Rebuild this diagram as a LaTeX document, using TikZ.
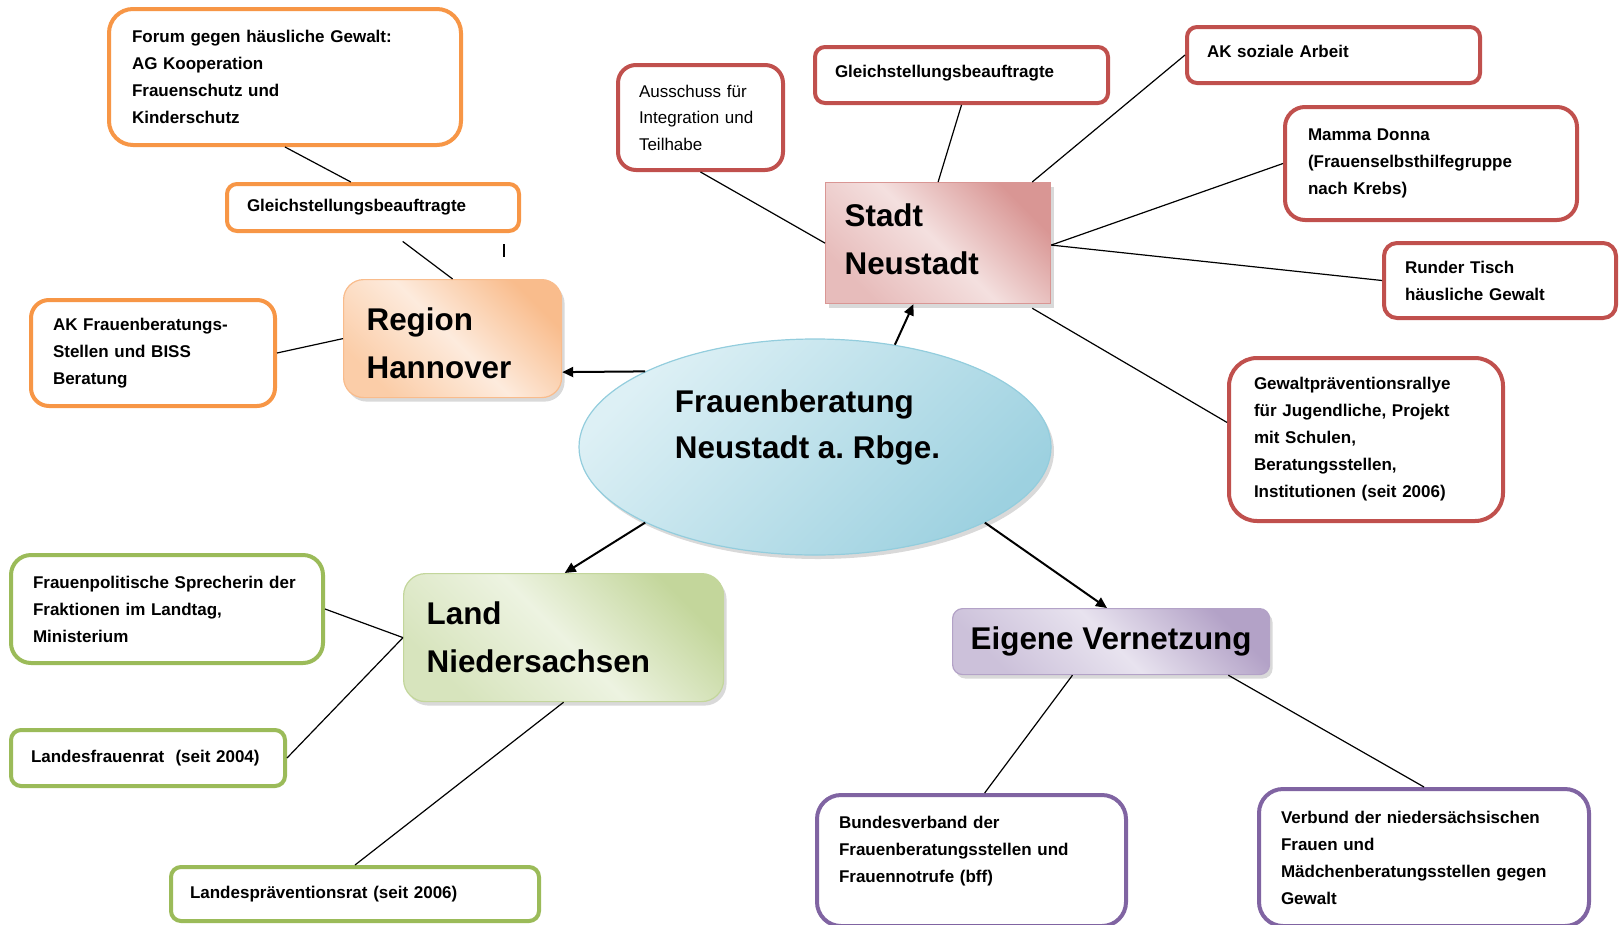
\documentclass[tikz,border=0pt]{standalone}
\usepackage{fontspec}
\setmainfont{Liberation Sans}
\usepackage{tikz}
\usetikzlibrary{%
   arrows.meta,%
   shapes.geometric,%
   positioning,%
   shadows%
}

\definecolor{orangeline}{HTML}{F79646}
\definecolor{redline}{HTML}{C0504D}
\definecolor{greenline}{HTML}{9BBB59}
\definecolor{purpleline}{HTML}{8064A2}
\definecolor{hubline}{HTML}{93CDDD}
\definecolor{hubdark}{HTML}{9DD1E0}
\definecolor{hublight}{HTML}{DDF0F5}
\definecolor{regdark}{HTML}{F9BC8C}
\definecolor{regmid}{HTML}{FBCDA8}
\definecolor{reglight}{HTML}{FDEBDD}
\definecolor{stadtdark}{HTML}{D99694}
\definecolor{stadtmid}{HTML}{E7BCBB}
\definecolor{stadtlight}{HTML}{F4E0DF}
\definecolor{landdark}{HTML}{C3D69B}
\definecolor{landmid}{HTML}{D7E4BD}
\definecolor{landlight}{HTML}{EDF3E1}
\definecolor{netzdark}{HTML}{B3A2C7}
\definecolor{netzmid}{HTML}{CCC1DA}
\definecolor{netzlight}{HTML}{E8E3EF}

\begin{document}
\begin{tikzpicture}[x=1pt,y=-1pt,>={Triangle[length=11pt,width=10pt]},
	partner/.style={
	rectangle,
	anchor=north west,
	line width=4pt,
	fill=white,
	align=left,
	inner xsep=22pt,
	font=\fontsize{17}{27}\selectfont\bfseries
	},topic/.style={
	rectangle,
	anchor=north west,
	line width=1.2pt,
	align=left,
	inner xsep=23pt,
	drop shadow={shadow xshift=3pt,shadow yshift=-4pt,opacity=0.3},
	font=\fontsize{31.4}{48}\selectfont\bfseries
	},centre/.style={
	ellipse,
	inner sep=0pt,
	line width=1.2pt,
	draw=hubline,
	top color=hublight,bottom color=hubdark,shading angle=45,
	drop shadow={shadow xshift=3pt,shadow yshift=-4pt,opacity=0.3},
	align=left,
	font=\fontsize{31.4}{46}\selectfont\bfseries
	},link/.style={
	-,line width=1.2pt
	},push/.style={
	->,line width=2pt
	}
]

\useasboundingbox (0,0) rectangle (1619,924);

% Centre and the four fields
\node (hub) [centre,minimum width=472pt,minimum height=216pt] at (815,447) {Frauenberatung\\Neustadt a.\ Rbge.\rule{15pt}{0pt}\\\mbox{}};
\node (region1) [topic,text width=172pt,minimum height=118pt,rounded corners=20pt,draw=regdark,
	top color=regdark,bottom color=regmid,middle color=reglight,shading angle=-45] at (343,279) {\mbox{}\\[-16pt]Region\\Hannover};
\node (stadt1) [topic,inner xsep=19pt,text width=187pt,minimum height=121pt,draw=stadtdark,
	top color=stadtdark,bottom color=stadtmid,middle color=stadtlight,shading angle=-45] at (825,182) {Stadt\\Neustadt\\[-40pt]\mbox{}};
\node (land1) [topic,text width=274pt,minimum height=128pt,rounded corners=22pt,draw=landdark,
	top color=landdark,bottom color=landmid,middle color=landlight,shading angle=-45] at (403,573) {Land\\Niedersachsen};
\node (netz1) [topic,inner xsep=17pt,minimum width=317pt,minimum height=66pt,rounded corners=10pt,draw=netzdark,
	top color=netzdark,bottom color=netzmid,middle color=netzlight,shading angle=-45] at (952,608) {Eigene Vernetzung};

% Region Hannover
\node (forum1) [partner,draw=orangeline,inner xsep=23pt,text width=306pt,minimum height=136pt,rounded corners=24pt] at (107,7) {Forum gegen häusliche Gewalt:\\AG Kooperation\\Frauenschutz und\\Kinderschutz};
\node (gleich1) [partner,draw=orangeline,inner xsep=20pt,text width=252pt,minimum height=47pt,rounded corners=10pt] at (225,182) {Gleichstellungsbeauftragte};
\node (akfrau1) [partner,draw=orangeline,text width=200pt,minimum height=106pt,rounded corners=18pt] at (29,298) {AK Frauenberatungs-\\Stellen und BISS\\Beratung};

% Stadt Neustadt
\node (ausschuss1) [partner,draw=redline,inner xsep=21pt,text width=123pt,minimum height=105pt,rounded corners=18pt,
	font=\fontsize{17}{26.5}\selectfont] at (616,63) {Ausschuss für\\Integration und\\Teilhabe};
\node (gleich2) [partner,draw=redline,inner xsep=20pt,text width=253pt,minimum height=56pt,rounded corners=10pt] at (813,45) {Gleichstellungsbeauftragte\\[-19pt]\mbox{}};
\node (aksozial1) [partner,draw=redline,inner xsep=20pt,text width=253pt,minimum height=56pt,rounded corners=10pt] at (1185,25) {AK soziale Arbeit\\[-19pt]\mbox{}};
\node (mamma1) [partner,draw=redline,inner xsep=23pt,text width=246pt,minimum height=113pt,rounded corners=20pt] at (1283,105) {Mamma Donna\\(Frauenselbsthilfegruppe\\nach Krebs)};
\node (tisch1) [partner,draw=redline,inner xsep=21pt,text width=190pt,minimum height=75pt,rounded corners=13pt] at (1382,241) {Runder Tisch\\häusliche Gewalt};
\node (rallye1) [partner,draw=redline,inner xsep=25pt,text width=224pt,minimum height=163pt,rounded corners=28pt] at (1227,356) {Gewaltpräventionsrallye\\für Jugendliche, Projekt\\mit Schulen,\\Beratungsstellen,\\Institutionen (seit 2006)};

% Land Niedersachsen
\node (sprecher1) [partner,draw=greenline,text width=268pt,minimum height=108pt,rounded corners=20pt] at (9,553) {Frauenpolitische Sprecherin der\\Fraktionen im Landtag,\\Ministerium};
\node (frauenrat1) [partner,draw=greenline,inner xsep=20pt,text width=234pt,minimum height=56pt,rounded corners=10pt] at (9,728) {Landesfrauenrat~ (seit 2004)};
\node (praevention1) [partner,draw=greenline,inner xsep=19pt,text width=330pt,minimum height=54pt,rounded corners=10pt] at (169,865) {Landespräventionsrat (seit 2006)};

% Eigene Vernetzung
\node (bundes1) [partner,draw=purpleline,text width=265pt,minimum height=131pt,rounded corners=24pt] at (815,793) {Bundesverband der\\Frauenberatungsstellen und\\Frauennotrufe (bff)\\[-4pt]\mbox{}};
\node (verbund1) [partner,draw=purpleline,text width=286pt,minimum height=137pt,rounded corners=24pt] at (1257,787) {Verbund der niedersächsischen\\Frauen und\\Mädchenberatungsstellen gegen\\Gewalt};

\path	(hub.156) edge[push] (region1.-17)
	(hub.52) edge[push] (stadt1.-112)
	(hub.204) edge[push] (land1.89)
	(hub.-24) edge[push] (netz1.97);
\path	(forum1.south) edge[link] (gleich1.131)
	(gleich1.-54) edge[link,shorten <=14pt] (region1.north)
	(akfrau1.east) edge[link] (region1.west);
\coordinate (tick1) at (504,244);
\draw[line width=1.2pt] (tick1) -- ++(0,13);
\path	(ausschuss1.south) edge[link] (stadt1.west)
	(gleich2.south) edge[link] (stadt1.north)
	(aksozial1.west) edge[link] (stadt1.33)
	(mamma1.west) edge[link] (stadt1.-1)
	(tisch1.west) edge[link] (stadt1.-1)
	(rallye1.173) edge[link,shorten >=8pt] (stadt1.-35);
\path	(sprecher1.east) edge[link] (land1.west)
	(frauenrat1.east) edge[link] (land1.west)
	(land1.south) edge[link] (praevention1.north);
\path	(netz1.-139) edge[link] (bundes1.79)
	(netz1.-16) edge[link] (verbund1.north);

\end{tikzpicture}
\end{document}
